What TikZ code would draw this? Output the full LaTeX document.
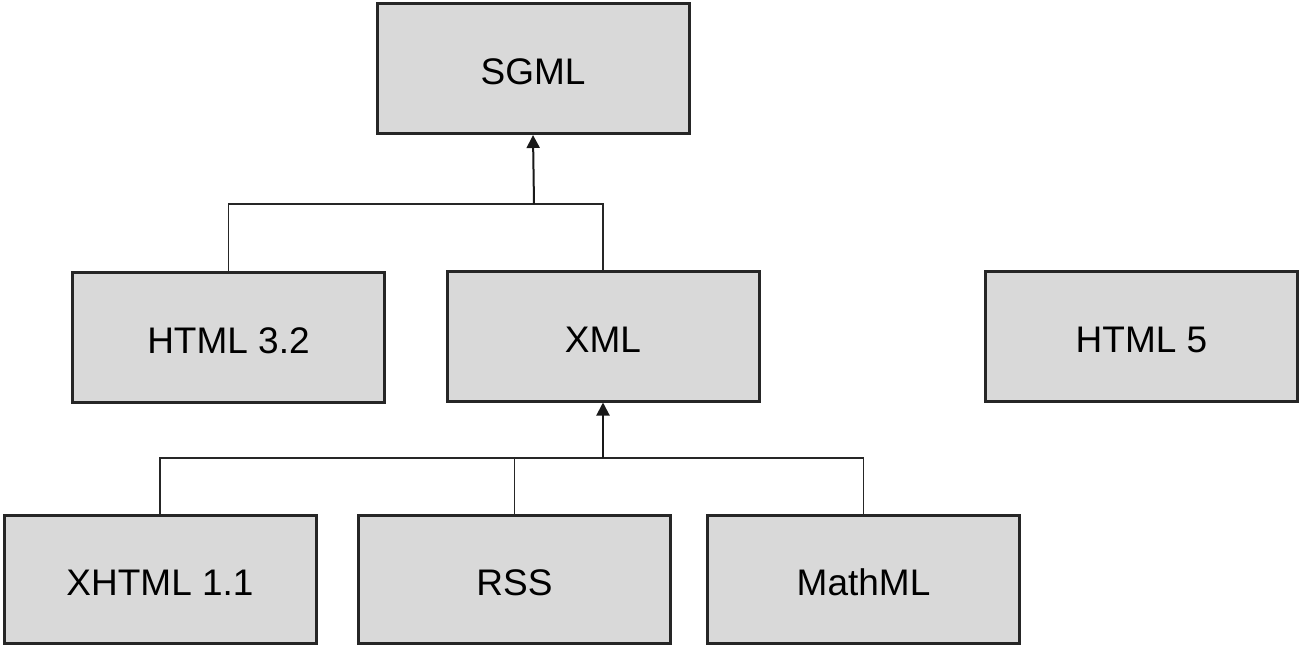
\documentclass[tikz,border=0pt]{standalone}
\usepackage{fontspec}
\setmainfont{Liberation Sans}
\usetikzlibrary{arrows.meta}
\definecolor{boxfill}{HTML}{D9D9D9}
\definecolor{boxline}{HTML}{262626}
\tikzset{
  box/.style={draw=boxline, fill=boxfill, line width=3pt, minimum width=312pt, minimum height=130pt, inner sep=0pt, text height=32.6pt, text depth=0pt, font=\fontsize{37}{44}\selectfont},
  link/.style={draw=black!85, line width=1.1pt},
  arr/.style={draw=black!90, line width=2pt, -{Triangle[length=13pt,width=13pt]}}
}
\begin{document}
\begin{tikzpicture}[x=1pt,y=-1pt]
\useasboundingbox (0,0) rectangle (1302,649);
\node[box] (sgml) at (533,68.5) {SGML};
\node[box] (html32) at (228.5,337.5) {HTML 3.2};
\node[box] (xml) at (603,336) {XML};
\node[box] (html5) at (1141.5,336) {HTML 5};
\node[box, minimum height=128pt] (xhtml) at (160,579.5) {XHTML 1.1};
\node[box, minimum height=128pt] (rss) at (514.5,579.5) {RSS};
\node[box, minimum height=128pt] (mathml) at (863.5,579.5) {MathML};
\coordinate (j1) at (534,204);
\coordinate (j2) at (603,458);
\draw[link] (html32.north) |- (j1);
\draw[link] (xml.north) |- (j1);
\draw[arr] (j1) -- (sgml.south);
\draw[link] (xhtml.north) |- (j2);
\draw[link] (rss.north) |- (j2);
\draw[link] (mathml.north) |- (j2);
\draw[arr] (j2) -- (xml.south);
\end{tikzpicture}
\end{document}
